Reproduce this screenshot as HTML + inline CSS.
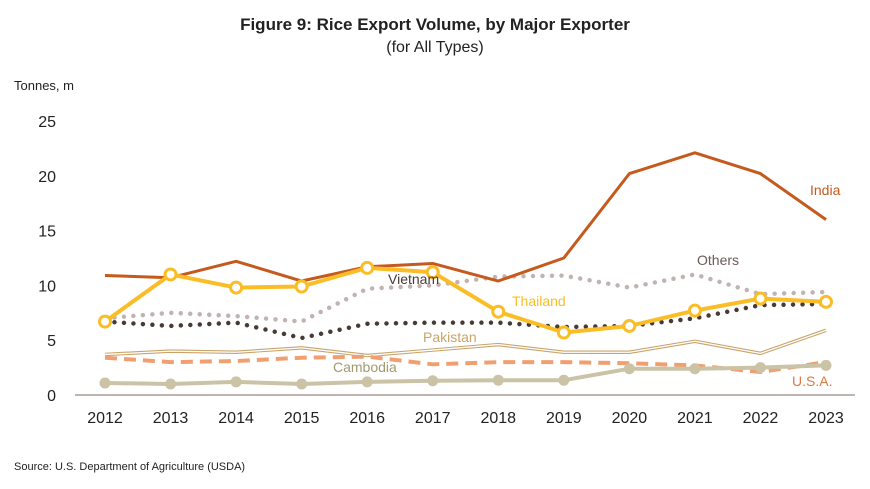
<!DOCTYPE html>
<html><head><meta charset="utf-8"><style>
body{margin:0;background:#fff;font-family:"Liberation Sans",sans-serif;}
svg text{font-family:"Liberation Sans",sans-serif;}
</style></head><body>
<svg id="c" width="870" height="484" viewBox="0 0 870 484">
<text x="435" y="30" text-anchor="middle" font-size="17" font-weight="bold" fill="#222">Figure 9: Rice Export Volume, by Major Exporter</text>
<text x="435" y="52" text-anchor="middle" font-size="16" fill="#222">(for All Types)</text>
<text x="14" y="90" font-size="13" fill="#222">Tonnes, m</text>
<text x="14" y="470" font-size="11" fill="#222">Source: U.S. Department of Agriculture (USDA)</text>
<g id="plot"></g>
</svg>
<script>
const years=[2012,2013,2014,2015,2016,2017,2018,2019,2020,2021,2022,2023];
const yTicks=[0,5,10,15,20,25];
const india=[10.9,10.7,12.2,10.4,11.7,12.0,10.4,12.5,20.2,22.1,20.2,16.0];
const thailand=[6.7,11.0,9.8,9.9,11.6,11.2,7.6,5.7,6.3,7.7,8.8,8.5];
const vietnam=[6.7,6.3,6.6,5.2,6.5,6.6,6.6,6.2,6.3,7.0,8.2,8.3];
const others=[7.0,7.5,7.2,6.7,9.7,10.0,10.8,10.9,9.8,11.0,9.2,9.4];
const pakistan=[3.7,4.0,3.9,4.3,3.6,4.1,4.6,3.9,3.9,4.9,3.8,5.9];
const usa=[3.4,3.0,3.1,3.4,3.5,2.8,3.0,3.0,2.9,2.7,2.1,3.0];
const cambodia=[1.1,1.0,1.2,1.0,1.2,1.3,1.35,1.35,2.4,2.4,2.5,2.7];
const NS='http://www.w3.org/2000/svg';
const g=document.getElementById('plot');
const x=i=>105+i*(826-105)/(years.length-1);
const y=v=>395-v*(395-121)/25;
function el(t,a){const e=document.createElementNS(NS,t);for(const k in a)e.setAttribute(k,a[k]);g.appendChild(e);return e;}
yTicks.forEach(t=>{const e=el('text',{x:56,y:y(t)+6,'text-anchor':'end','font-size':16,fill:'#222'});e.textContent=t;

});
years.forEach((yr,i)=>{const e=el('text',{x:x(i),y:423,'text-anchor':'middle','font-size':16,fill:'#222'});e.textContent=yr;

});
const ax=el('line',{x1:75,x2:855,y1:395,y2:395,stroke:'#a89c98','stroke-width':1.5});


const pts=d=>d.map((v,i)=>x(i)+','+y(v)).join(' ');
function line(d,attrs,name){const p=el('polyline',Object.assign({points:pts(d),fill:'none','stroke-linejoin':'round'},attrs));

return p;}
// Pakistan double line
line(pakistan,{stroke:'#c9a46a','stroke-width':3.5},'pakistan-line');
line(pakistan,{stroke:'#fff','stroke-width':1.3},'pakistan-line-inner');
line(usa,{stroke:'#f0a070','stroke-width':4,'stroke-dasharray':'12 7'},'usa-line');
line(cambodia,{stroke:'#cbc3a6','stroke-width':4},'cambodia-line');
cambodia.forEach((v,i)=>{const c=el('circle',{cx:x(i),cy:y(v),r:5.5,fill:'#cbc3a6'});

});
line(others,{stroke:'#c2b2b2','stroke-width':4.5,'stroke-linecap':'round','stroke-dasharray':'0 9.5'},'others-line');
line(vietnam,{stroke:'#4a3a36','stroke-width':4.5,'stroke-linecap':'round','stroke-dasharray':'0 9.5'},'vietnam-line');
line(india,{stroke:'#c55a1c','stroke-width':3},'india-line');
line(thailand,{stroke:'#fbbd26','stroke-width':4},'thailand-line');
thailand.forEach((v,i)=>{const c=el('circle',{cx:x(i),cy:y(v),r:5.5,fill:'#fff',stroke:'#fbbd26','stroke-width':3});

});
const labels=[['India',810,195,'#c55a1c'],['Others',697,265,'#6b5a56'],['Thailand',512,306,'#fbbd26'],['Vietnam',388,284,'#4a3a36'],['Pakistan',423,342,'#c9a46a'],['Cambodia',333,372,'#a09a70'],['U.S.A.',792,386,'#e07840']];
labels.forEach(l=>{const t=el('text',{x:l[1],y:l[2],'font-size':14,fill:l[3]});t.textContent=l[0];

});
</script>
</body></html>
